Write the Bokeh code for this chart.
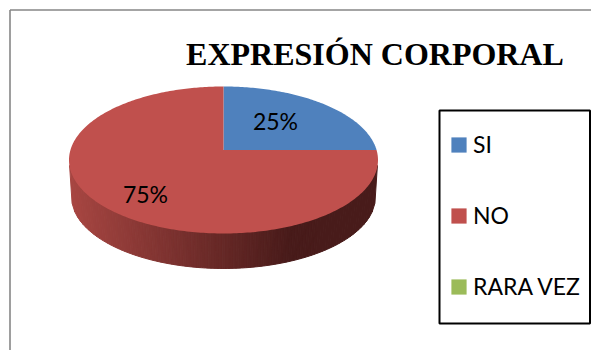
import numpy as np
from bokeh.embed import file_html
from bokeh.resources import INLINE
from bokeh.plotting import figure
from bokeh.models import Range1d, Legend, LegendItem
from bokeh.core.properties import value

title = "EXPRESIÓN CORPORAL"
categories = ["SI", "NO", "RARA VEZ"]
values = [25, 75, 0]
labels = ["25%", "75%"]
colors = ["#4F81BD", "#C0504D", "#9BBB59"]

# projection of the tilted pie, in page pixels
VX, VY = 223.0, 149.5      # pie apex as projected
CX, CY = 223.0, 159.5      # rim ellipse centre
A, B = 154.5, 73.5
CY2, A2, B2 = 197.0, 152.0, 71.5   # lower rim


def rim(theta):
    dx, dy = np.sin(theta), -np.cos(theta) * B / A
    ox, oy = VX - CX, VY - CY
    a = (dx / A) ** 2 + (dy / B) ** 2
    b = 2 * (ox * dx / A ** 2 + oy * dy / B ** 2)
    c = (ox / A) ** 2 + (oy / B) ** 2 - 1
    t = (-b + np.sqrt(b * b - 4 * a * c)) / (2 * a)
    return VX + t * dx, VY + t * dy


p = figure(width=591, height=350, output_backend="svg", toolbar_location=None,
           x_range=Range1d(0, 591), y_range=Range1d(350, 0),
           min_border=0, outline_line_color=None, background_fill_color="white")
p.axis.visible = False
p.grid.visible = False

# chart frame
p.line([9.5, 9.5], [350, 9.5], line_color="#868686", line_width=1.6)
p.line([9.5, 591], [9.5, 9.5], line_color="#868686", line_width=1.6)

# legend frame
p.quad(left=[439], right=[589.5], top=[110], bottom=[323], fill_color="white",
       line_color="black", line_width=2)

# side wall: shaded strips along the front of the rim, coloured as the NO slice
xs_side = np.linspace(CX - A + 0.6, CX + A - 0.6, 110)
side_x, side_y, side_c = [], [], []
c_l = np.array([168, 70, 66])
c_d = np.array([72, 27, 26])
for x0, x1 in zip(xs_side[:-1], xs_side[1:]):
    top0 = CY + B * np.sqrt(1 - ((x0 - CX) / A) ** 2)
    top1 = CY + B * np.sqrt(1 - ((x1 - CX) / A) ** 2)
    k0 = (x0 - CX) / A * A2
    k1 = (x1 - CX) / A * A2
    bot0 = CY2 + B2 * np.sqrt(max(0, 1 - (k0 / A2) ** 2))
    bot1 = CY2 + B2 * np.sqrt(max(0, 1 - (k1 / A2) ** 2))
    side_x.append([x0, x1, CX + k1, CX + k0])
    side_y.append([top0 - 1, top1 - 1, bot1 - 0.5, bot0 - 0.5])
    f = min(1.0, max(0.0, (x0 - (CX - A)) / 222.0))
    col = c_l + (c_d - c_l) * f
    side_c.append("#%02x%02x%02x" % tuple(int(v) for v in col))
p.patches(side_x, side_y, fill_color=side_c, line_color=side_c, line_width=1)

# top face slices, from the values
total = sum(values)
start = 0.0
items = []
for name, v, col in zip(categories, values, colors):
    th = np.linspace(start, start + v / total * 2 * np.pi, max(2, int(v * 4)))
    px, py = rim(th)
    r = p.patch(np.r_[VX, px], np.r_[VY, py], fill_color=col, line_color=None)
    items.append(LegendItem(label=name, renderers=[r]))
    start += v / total * 2 * np.pi

# data labels
lab_x = [275, 145]
lab_y = [120, 193]
p.text(lab_x, lab_y, text=labels, text_font=value("Lato"), text_font_size="23px",
       text_color="black", text_align="center", text_baseline="middle")

# title
p.text([374.5], [53], text=[title], text_font=value("Liberation Serif"),
       text_font_style="bold", text_font_size="32px", text_color="black",
       text_align="center", text_baseline="middle")

legend = Legend(items=items, location=(449, 50), orientation="vertical",
                glyph_width=19, glyph_height=19, label_standoff=5, spacing=43,
                margin=0, padding=0, border_line_color=None,
                label_text_font="Lato", label_text_font_size="23px",
                label_text_color="black", background_fill_alpha=0)
p.add_layout(legend, "center")

open("out.html", "w").write(file_html(p, INLINE))
